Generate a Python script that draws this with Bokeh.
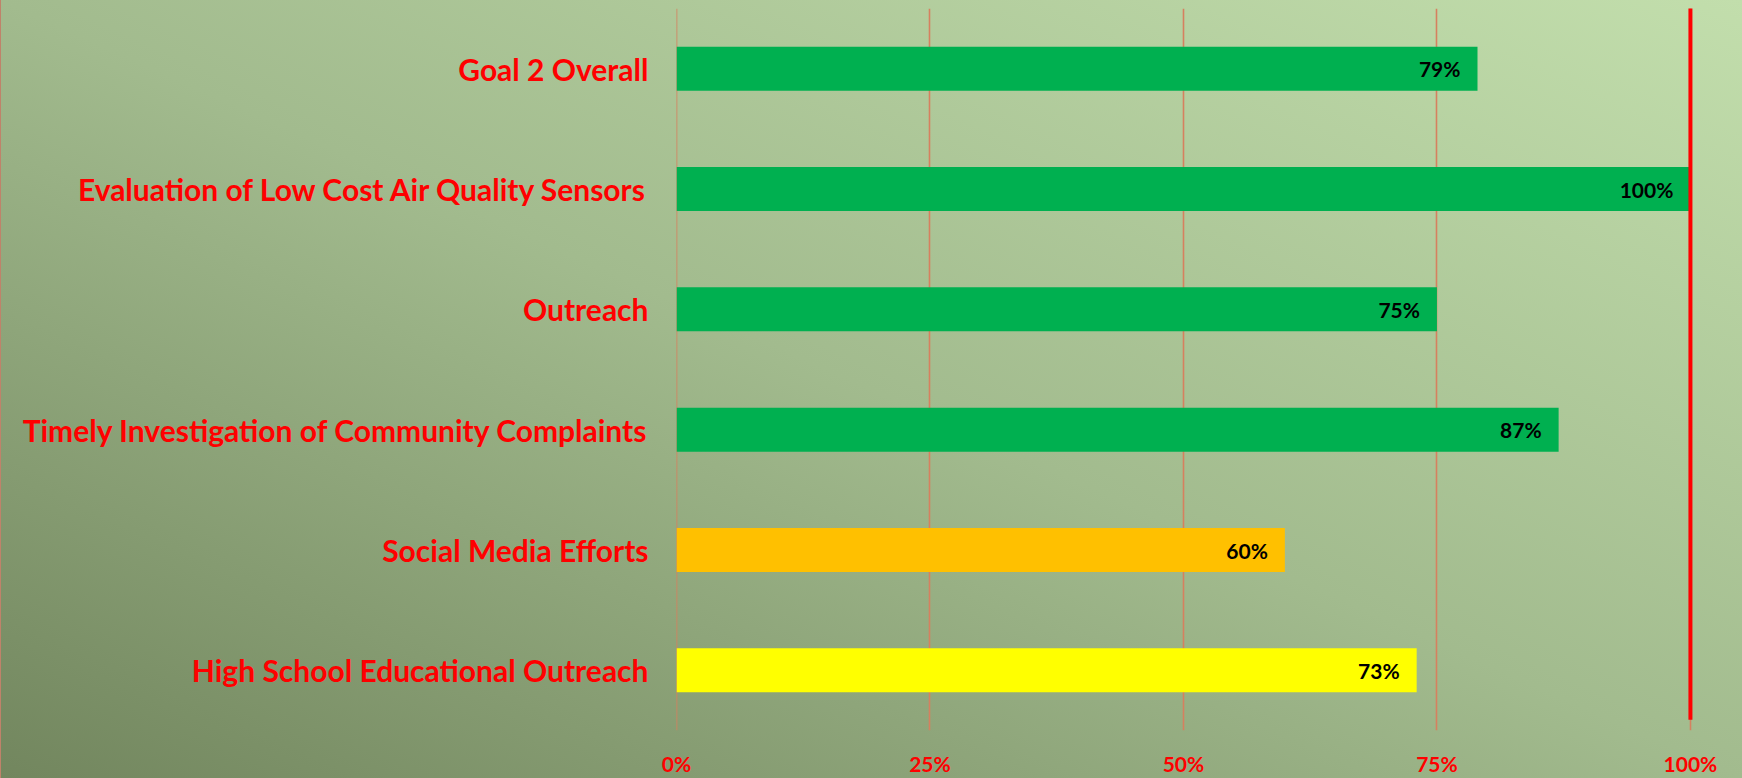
from bokeh.plotting import figure
from bokeh.models import (ColumnDataSource, FactorRange, Range1d, FixedTicker,
                          PrintfTickFormatter, GlobalInlineStyleSheet, Span)
from bokeh.transform import dodge
from bokeh.core.properties import value
from bokeh.embed import file_html
from bokeh.resources import INLINE

# ---- data (top to bottom as shown) ----
categories = [
    "Goal 2 Overall",
    "Evaluation of Low Cost Air Quality Sensors",
    "Outreach",
    "Timely Investigation of Community Complaints",
    "Social Media Efforts",
    "High School Educational Outreach",
]
percent_complete = [79, 100, 75, 87, 60, 73]
status = ["green", "green", "green", "green", "orange", "yellow"]
target = 100
x_ticks = [0, 25, 50, 75, 100]

status_colors = {"green": "#00B050", "orange": "#FFC000", "yellow": "#FFFF00"}

source = ColumnDataSource(dict(
    cat=categories,
    val=percent_complete,
    label=[f"{v}%" for v in percent_complete],
    color=[status_colors[s] for s in status],
))

p = figure(
    width=1742, height=778,
    y_range=FactorRange(factors=list(reversed(categories)), range_padding=0),
    x_range=Range1d(0, 100.5),
    output_backend="svg", toolbar_location=None,
    min_border_left=676, min_border_right=47, min_border_top=8, min_border_bottom=47,
)
p.stylesheets = [GlobalInlineStyleSheet(css=(
    "html{min-height:100%;background:linear-gradient(to top right,#72865E 0%,#A2BB8E 50%,#C2DEAC 100%) fixed;"
    "box-shadow:inset 1px 0 0 #C0826A;}"
    "body{background:transparent;}"
))]
p.background_fill_alpha = 0
p.border_fill_alpha = 0
p.outline_line_color = None

grid_color = "#D6805F"
p.add_layout(Span(location=x_ticks[0], dimension="height", line_color=grid_color,
                  line_width=1.6, level="underlay"))

p.hbar(y="cat", left=0, right="val", height=0.365, color="color",
       line_color=None, source=source)

p.text(x="val", y="cat", text="label", source=source, x_offset=-17,
       text_align="right", text_baseline="middle",
       text_font=value("Lato"), text_font_style="bold", text_font_size="21px",
       text_color="black")

# target line at 100%
tsrc = ColumnDataSource(dict(x=[target], top=[categories[0]], bottom=[categories[-1]]))
p.segment(x0="x", x1="x",
          y0=dodge("top", 0.52, range=p.y_range),
          y1=dodge("bottom", -0.41, range=p.y_range),
          line_color="#FF0000", line_width=4, source=tsrc)

p.xgrid.ticker = FixedTicker(ticks=x_ticks)
p.xgrid.grid_line_color = grid_color
p.xgrid.grid_line_width = 1.6
p.ygrid.grid_line_color = None

p.xaxis.ticker = FixedTicker(ticks=x_ticks)
p.xaxis.formatter = PrintfTickFormatter(format="%d%%")
p.xaxis.axis_line_color = None
p.xaxis.major_tick_line_color = None
p.xaxis.minor_tick_line_color = None
p.xaxis.major_tick_out = 0
p.xaxis.major_label_standoff = 20
p.xaxis.major_label_text_color = "#FF0000"
p.xaxis.major_label_text_font = "Lato"
p.xaxis.major_label_text_font_style = "bold"
p.xaxis.major_label_text_font_size = "21px"

p.yaxis.axis_line_color = None
p.yaxis.major_tick_line_color = None
p.yaxis.major_tick_out = 0
p.yaxis.major_label_standoff = 28
p.yaxis.major_label_text_color = "#FF0000"
p.yaxis.major_label_text_font = "Lato"
p.yaxis.major_label_text_font_style = "bold"
p.yaxis.major_label_text_font_size = "30px"

open("out.html", "w").write(file_html(p, INLINE))
